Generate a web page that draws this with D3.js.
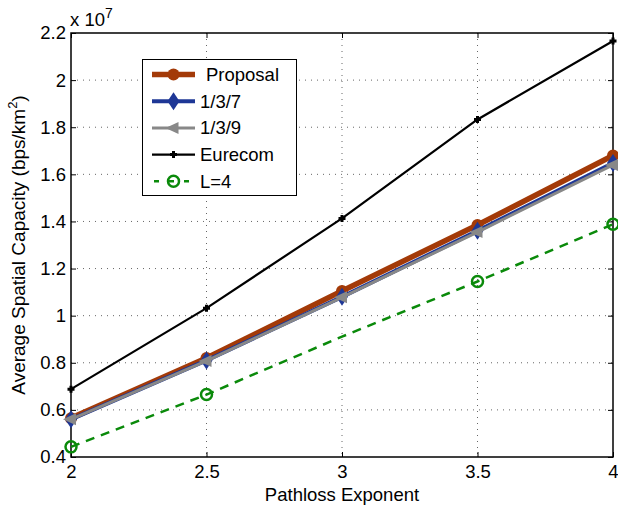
<!DOCTYPE html>
<html>
<head>
<meta charset="utf-8">
<script src="https://cdn.jsdelivr.net/npm/d3@7"></script>
<style>
  body { margin: 0; background: #fff; }
  text { font-family: "Liberation Sans", Arial, sans-serif; }
</style>
</head>
<body>
<script>
// data (y values in units of 1e7)
const exponents = [2, 2.5, 3, 3.5, 4];
const proposal = [0.565, 0.82, 1.105, 1.385, 1.68];
const fr137 = [0.56, 0.81, 1.08, 1.36, 1.648];
const fr139 = [0.56, 0.808, 1.078, 1.355, 1.64];
const eurecom = [0.688, 1.032, 1.413, 1.833, 2.166];
const l4 = [0.443, 0.665, 0.911, 1.145, 1.388];
const l4Markers = [true, true, false, true, true];
const xTicks = [2, 2.5, 3, 3.5, 4];
const yTicks = [0.4, 0.6, 0.8, 1, 1.2, 1.4, 1.6, 1.8, 2, 2.2];

const width = 618, height = 510;
const plotLeft = 71, plotRight = 613, plotTop = 33, plotBottom = 457;
const fs = 18.5;

const svg = d3.select("body").append("svg")
    .attr("width", width)
    .attr("height", height);

const x = d3.scaleLinear().domain([2, 4]).range([plotLeft, plotRight]);
const y = d3.scaleLinear().domain([0.4, 2.2]).range([plotBottom, plotTop]);

// grid
svg.append("g").selectAll("line")
    .data(xTicks.slice(1, -1))
    .join("line")
    .attr("x1", d => x(d)).attr("x2", d => x(d))
    .attr("y1", plotTop).attr("y2", plotBottom)
    .attr("stroke", "#666").attr("stroke-width", 1)
    .attr("stroke-dasharray", "1,5");
svg.append("g").selectAll("line")
    .data(yTicks.slice(1, -1))
    .join("line")
    .attr("x1", plotLeft).attr("x2", plotRight)
    .attr("y1", d => y(d)).attr("y2", d => y(d))
    .attr("stroke", "#666").attr("stroke-width", 1)
    .attr("stroke-dasharray", "1,5");

// axes
const fmt = d => d.toString();
svg.append("g")
    .attr("transform", `translate(0,${plotBottom})`)
    .call(d3.axisBottom(x).tickValues(xTicks).tickSizeInner(-5).tickSizeOuter(0).tickPadding(8).tickFormat(fmt))
    .call(g => g.select(".domain").remove())
    .call(g => g.selectAll("text").attr("font-size", fs).attr("fill", "#000"));
svg.append("g")
    .attr("transform", `translate(0,${plotTop})`)
    .call(d3.axisTop(x).tickValues(xTicks).tickSizeInner(-5).tickSizeOuter(0).tickFormat(""))
    .call(g => g.select(".domain").remove());
svg.append("g")
    .attr("transform", `translate(${plotLeft},0)`)
    .call(d3.axisLeft(y).tickValues(yTicks).tickSizeInner(-5).tickSizeOuter(0).tickPadding(5).tickFormat(fmt))
    .call(g => g.select(".domain").remove())
    .call(g => g.selectAll("text").attr("font-size", fs).attr("fill", "#000"));
svg.append("g")
    .attr("transform", `translate(${plotRight},0)`)
    .call(d3.axisRight(y).tickValues(yTicks).tickSizeInner(-5).tickSizeOuter(0).tickFormat(""))
    .call(g => g.select(".domain").remove());

svg.append("rect")
    .attr("x", plotLeft).attr("y", plotTop)
    .attr("width", plotRight - plotLeft).attr("height", plotBottom - plotTop)
    .attr("fill", "none").attr("stroke", "#000").attr("stroke-width", 1.5);

// series
const series = [
  { name: "Proposal", vals: proposal, color: "#A33A08", width: 5.5, marker: "circle" },
  { name: "1/3/7", vals: fr137, color: "#1E3796", width: 4, marker: "diamond" },
  { name: "1/3/9", vals: fr139, color: "#888888", width: 3, marker: "triangle" },
  { name: "Eurecom", vals: eurecom, color: "#000000", width: 2.2, marker: "plus" },
  { name: "L=4", vals: l4, color: "#0A8A0A", width: 2.5, marker: "ocircle", dash: "9,7" }
];

const line = d3.line().x(d => x(d[0])).y(d => y(d[1]));

function drawMarker(g, type, cx, cy, color) {
  if (type === "circle") {
    g.append("circle").attr("cx", cx).attr("cy", cy).attr("r", 6).attr("fill", color);
  } else if (type === "diamond") {
    g.append("path").attr("d", `M${cx},${cy - 9}L${cx + 6},${cy}L${cx},${cy + 9}L${cx - 6},${cy}Z`).attr("fill", color);
  } else if (type === "triangle") {
    g.append("path").attr("d", `M${cx - 8},${cy}L${cx + 5},${cy - 6}L${cx + 5},${cy + 6}Z`).attr("fill", color);
  } else if (type === "plus") {
    g.append("path").attr("d", `M${cx - 3.5},${cy}H${cx + 3.5}M${cx},${cy - 3.5}V${cy + 3.5}`)
      .attr("stroke", color).attr("stroke-width", 3);
  } else if (type === "ocircle") {
    g.append("circle").attr("cx", cx).attr("cy", cy).attr("r", 5.5)
      .attr("fill", "none").attr("stroke", color).attr("stroke-width", 2.5);
  }
}

series.forEach(s => {
  const pts = exponents.map((e, i) => [e, s.vals[i]]);
  const g = svg.append("g");
  g.append("path")
    .attr("d", line(pts))
    .attr("fill", "none")
    .attr("stroke", s.color)
    .attr("stroke-width", s.width)
    .attr("stroke-linejoin", "round")
    .attr("stroke-dasharray", s.dash || null);
  pts.forEach((p, i) => {
    if (s.name === "L=4" && !l4Markers[i]) return;
    drawMarker(g, s.marker, x(p[0]), y(p[1]), s.color);
  });
});

// legend
const lg = svg.append("g");
lg.append("rect")
    .attr("x", 142.5).attr("y", 59.5).attr("width", 154).attr("height", 136)
    .attr("fill", "#fff").attr("stroke", "#000").attr("stroke-width", 1);
series.forEach((s, i) => {
  const ly = 74.5 + i * 26.7;
  lg.append("line")
    .attr("x1", 152).attr("x2", 195).attr("y1", ly).attr("y2", ly)
    .attr("stroke", s.color).attr("stroke-width", s.width)
    .attr("stroke-dasharray", s.dash ? "5,10" : null)
    .attr("stroke-dashoffset", s.dash ? -2 : null);
  drawMarker(lg, s.marker, 173.5, ly, s.color);
  lg.append("text")
    .attr("x", i === 0 ? 206 : 200).attr("y", ly + 6.5)
    .attr("font-size", fs)
    .text(s.name);
});

// exponent label
const ex = svg.append("text").attr("x", 70).attr("y", 26).attr("font-size", fs);
ex.append("tspan").text("x 10");
ex.append("tspan").attr("dy", -8).attr("font-size", 14).text("7");

// axis labels
svg.append("text")
    .attr("x", (plotLeft + plotRight) / 2).attr("y", 501)
    .attr("text-anchor", "middle").attr("font-size", fs)
    .text("Pathloss Exponent");
const yl = svg.append("text")
    .attr("transform", `translate(25,${(plotTop + plotBottom) / 2}) rotate(-90)`)
    .attr("text-anchor", "middle").attr("font-size", 19)
    .text("Average Spatial Capacity (bps/km");
yl.append("tspan").attr("dy", -8).attr("font-size", 13).text("2");
yl.append("tspan").attr("dy", 8).text(")");
</script>
</body>
</html>
